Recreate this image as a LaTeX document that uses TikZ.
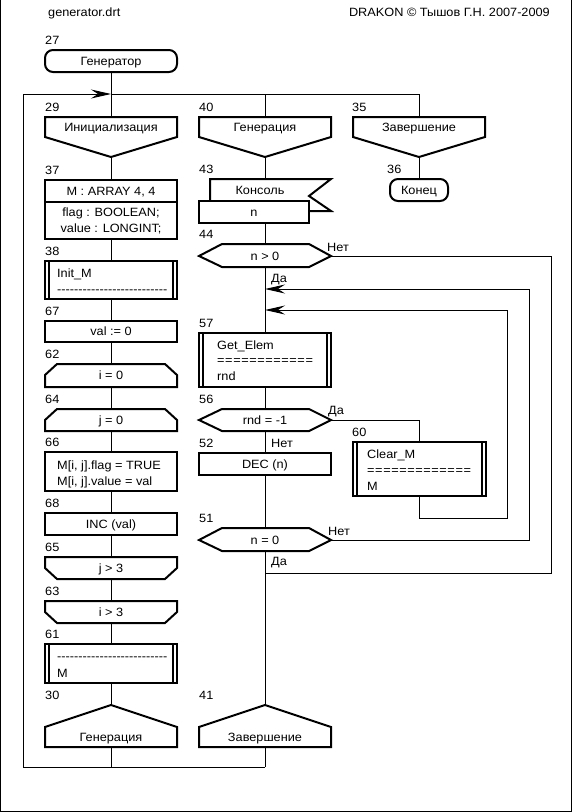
\documentclass[tikz,border=0pt]{standalone}
\usepackage{fontspec}
\setmainfont{Liberation Sans}[Ligatures=TeXOff,FakeStretch=1.06]
\usetikzlibrary{arrows.meta}
\begin{document}
\begin{tikzpicture}[x=1pt,y=-1pt,
  shp/.style={line width=2pt,fill=white},
  bar/.style={line width=2pt},
  ln/.style={line width=1pt},
  arr/.style={line width=1pt,-{Stealth[length=20pt,width=9pt,inset=7pt]}},
  txt/.style={font=\fontsize{12}{14}\selectfont,inner sep=0pt,text height=8.6pt,text depth=0pt},
  lbl/.style={font=\fontsize{12}{14}\selectfont,inner sep=0pt,anchor=base west},
  eqs/.style={lbl,font=\fontsize{12}{14}\selectfont\addfontfeature{LetterSpace=5}},
]
\useasboundingbox (0,0) rectangle (573,812);
% frame
\draw[ln] (0.5,0) -- (0.5,811.5) -- (571.5,811.5) -- (571.5,0);

% header texts
\node[lbl] (fname) at (48,16) {generator.drt};
\node[lbl,anchor=base east] (copy) at (550,16) {DRAKON © Тышов Г.Н. 2007-2009};

% backbone coordinates
\coordinate (Ltop) at (111,72);
\coordinate (Lbot) at (111,767);
\coordinate (Mtop) at (265,94);
\coordinate (Mbot) at (265,767);
\coordinate (Rtop) at (419,94);
\coordinate (Rbot) at (419,179);
\coordinate (Jl) at (23,94);
\coordinate (Jbl) at (23,767);
\coordinate (Jc) at (111,94);
\coordinate (q44r) at (331,256);
\coordinate (jend) at (265,573);
\coordinate (q51r) at (331,540);
\coordinate (a1) at (265,289);
\coordinate (cmb) at (419,496);
\coordinate (a2) at (265,310);
\coordinate (q56r) at (331,420);
\coordinate (cmt) at (419,442);

% connectors
\draw[ln] (Ltop) -- (Lbot);
\draw[ln] (Mtop) -- (Mbot);
\draw[ln] (Jc) -- (Rtop) -- (Rbot);
\draw[arr] (Mbot) -- (Jbl) -- (Jl) -- (Jc);
\draw[ln] (q44r) -- (551,256) -- (551,573) -- (jend);
\draw[arr] (q51r) -- (529,540) -- (529,289) -- (a1);
\draw[arr] (cmb) -- (419,518) -- (507,518) -- (507,310) -- (a2);
\draw[ln] (q56r) -- (419,420) -- (cmt);

% ---- left column ----
\draw[shp,rounded corners=8pt] (45,50) rectangle (177,72);
\node[txt] (n27) at (111,61) {Генератор};
\node[lbl] (l27) at (45,44) {27};

\draw[shp] (45,117) -- (177,117) -- (177,137) -- (111,157) -- (45,137) -- cycle;
\node[txt] (n29) at (111,127) {Инициализация};
\node[lbl] (l29) at (45,111) {29};

\draw[shp] (45,180) rectangle (177,239);
\draw[bar] (45,202) -- (177,202);
\node[txt] (n37a) at (111,191) {M : ARRAY 4, 4};
\node[txt] (n37b) at (111,212.5) {flag : BOOLEAN;};
\node[txt] (n37c) at (111,228) {value : LONGINT;};
\node[lbl] (l37) at (45,174) {37};

\draw[shp] (45,261) rectangle (177,299);
\draw[bar] (49,261) -- (49,299);
\draw[bar] (173,261) -- (173,299);
\node[lbl] (n38a) at (57,277) {Init\_M};
\node[lbl] (n38b) at (57,293) {--------------------------};
\node[lbl] (l38) at (45,255) {38};

\draw[shp] (45,321) rectangle (177,342);
\node[txt] (n67) at (111,331.5) {val := 0};
\node[lbl] (l67) at (45,315) {67};

\draw[shp] (45,387) -- (45,375) -- (57,364) -- (165,364) -- (177,375) -- (177,387) -- cycle;
\node[txt] (n62) at (111,375.5) {i = 0};
\node[lbl] (l62) at (45,358) {62};

\draw[shp] (45,431) -- (45,420) -- (57,409) -- (165,409) -- (177,420) -- (177,431) -- cycle;
\node[txt] (n64) at (111,420) {j = 0};
\node[lbl] (l64) at (45,403) {64};

\draw[shp] (45,452) rectangle (177,491);
\node[lbl] (n66a) at (57,469) {M[i, j].flag = TRUE};
\node[lbl] (n66b) at (57,485) {M[i, j].value = val};
\node[lbl] (l66) at (45,446) {66};

\draw[shp] (45,513) rectangle (177,535);
\node[txt] (n68) at (111,524) {INC (val)};
\node[lbl] (l68) at (45,507) {68};

\draw[shp] (45,557) -- (177,557) -- (177,568) -- (165,579) -- (57,579) -- (45,568) -- cycle;
\node[txt] (n65) at (111,568) {j > 3};
\node[lbl] (l65) at (45,551) {65};

\draw[shp] (45,601) -- (177,601) -- (177,612) -- (165,623) -- (57,623) -- (45,612) -- cycle;
\node[txt] (n63) at (111,612) {i > 3};
\node[lbl] (l63) at (45,595) {63};

\draw[shp] (45,644) rectangle (177,683);
\draw[bar] (49,644) -- (49,683);
\draw[bar] (173,644) -- (173,683);
\node[lbl] (n61a) at (57,660) {--------------------------};
\node[lbl] (n61b) at (57,677) {M};
\node[lbl] (l61) at (45,638) {61};

\draw[shp] (45,747) -- (45,727) -- (111,705) -- (177,727) -- (177,747) -- cycle;
\node[txt] (n30) at (111,737) {Генерация};
\node[lbl] (l30) at (45,699) {30};

% ---- middle column ----
\draw[shp] (199,117) -- (331,117) -- (331,137) -- (265,157) -- (199,137) -- cycle;
\node[txt] (n40) at (265,127) {Генерация};
\node[lbl] (l40) at (199,111) {40};

\fill[white] (210,201) -- (210,179) -- (331,179) -- (309,196) -- (331,211) -- (309,211) -- cycle;
\draw[bar] (210,201) -- (210,179) -- (331,179) -- (309,196) -- (331,211) -- (309,211);
\draw[shp] (199,201) rectangle (309,223);
\node[txt] (n43a) at (260,190) {Консоль};
\node[txt] (n43b) at (254,212) {n};
\node[lbl] (l43) at (199,173) {43};

\draw[shp] (199,256) -- (222,244) -- (309,244) -- (331,256) -- (309,267) -- (222,267) -- cycle;
\node[txt] (n44) at (265,256) {n > 0};
\node[lbl] (l44) at (199,238) {44};
\node[lbl] (y44) at (327,251) {Нет};
\node[lbl] (d44) at (271,282) {Да};

\draw[shp] (199,333) rectangle (331,387);
\draw[bar] (203,333) -- (203,387);
\draw[bar] (327,333) -- (327,387);
\node[lbl] (n57a) at (217,349) {Get\_Elem};
\node[eqs] (n57b) at (217,364) {============};
\node[lbl] (n57c) at (217,380) {rnd};
\node[lbl] (l57) at (199,327) {57};

\draw[shp] (199,420) -- (222,409) -- (309,409) -- (331,420) -- (309,431) -- (222,431) -- cycle;
\node[txt] (n56) at (265,420) {rnd = -1};
\node[lbl] (l56) at (199,403) {56};
\node[lbl] (y56) at (328,414) {Да};
\node[lbl] (d56) at (271,447) {Нет};

\draw[shp] (199,453) rectangle (331,475);
\node[txt] (n52) at (265,464) {DEC (n)};
\node[lbl] (l52) at (199,447) {52};

\draw[shp] (199,540) -- (222,528) -- (309,528) -- (331,540) -- (309,551) -- (222,551) -- cycle;
\node[txt] (n51) at (265,540) {n = 0};
\node[lbl] (l51) at (199,522) {51};
\node[lbl] (y51) at (328,535) {Нет};
\node[lbl] (d51) at (271,565) {Да};

\draw[shp] (199,747) -- (199,727) -- (265,705) -- (331,727) -- (331,747) -- cycle;
\node[txt] (n41) at (265,737) {Завершение};
\node[lbl] (l41) at (199,699) {41};

% ---- right column ----
\draw[shp] (353,117) -- (485,117) -- (485,137) -- (419,157) -- (353,137) -- cycle;
\node[txt] (n35) at (419,127) {Завершение};
\node[lbl] (l35) at (352,111) {35};

\draw[shp,rounded corners=8pt] (390,179) rectangle (448,201);
\node[txt] (n36) at (419,190) {Конец};
\node[lbl] (l36) at (387,173) {36};

\draw[shp] (353,442) rectangle (486,496);
\draw[bar] (357,442) -- (357,496);
\draw[bar] (482,442) -- (482,496);
\node[lbl] (n60a) at (367,458) {Clear\_M};
\node[eqs] (n60b) at (367,474) {=============};
\node[lbl] (n60c) at (367,490) {M};
\node[lbl] (l60) at (352,436) {60};
\end{tikzpicture}
\end{document}
